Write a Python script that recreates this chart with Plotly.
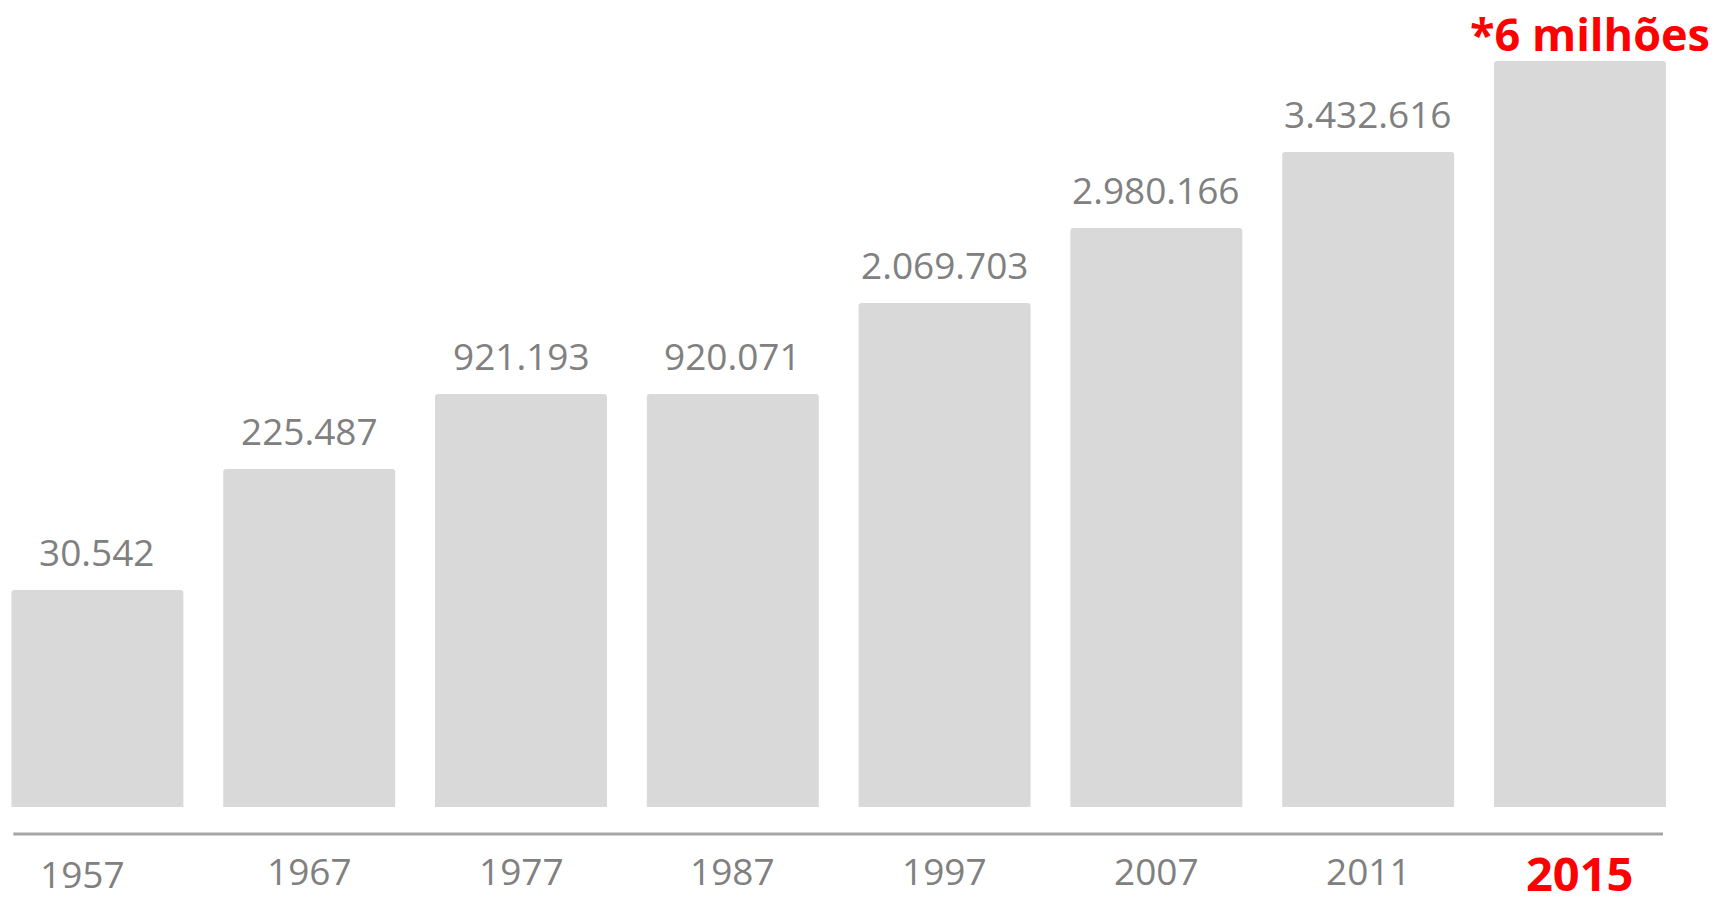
import plotly.graph_objects as go

# Data
years = ["1957", "1967", "1977", "1987", "1997", "2007", "2011", "2015"]
value_labels = ["30.542", "225.487", "921.193", "920.071", "2.069.703", "2.980.166", "3.432.616", "*6 milhões"]
# Displayed (stylised, non-proportional) bar heights
bar_heights = [217, 338, 413, 413, 504, 579, 655, 746]

GRAY_TXT = "#808080"
RED = "#ff0000"
BAR = "#d9d9d9"
FONT = "Open Sans"

x = list(range(len(years)))

fig = go.Figure()
fig.add_trace(go.Bar(
    x=x, y=bar_heights, width=0.812,
    marker=dict(color=BAR, line=dict(width=0), cornerradius=3),
    hoverinfo="skip",
))

annotations = []
n = len(years)
for i, (yr, lab, h) in enumerate(zip(years, value_labels, bar_heights)):
    last = i == n - 1
    if last:
        annotations.append(dict(
            x=i, y=h, xref="x", yref="y", text=f"<b>{lab}</b>", showarrow=False,
            yanchor="bottom", xanchor="center", xshift=10, yshift=-5,
            font=dict(family=FONT, size=45, color=RED),
        ))
        annotations.append(dict(
            x=i, y=-66, xref="x", yref="y", text=f"<b>{yr}</b>", showarrow=False,
            yanchor="middle", xanchor="center",
            font=dict(family=FONT, size=47, color=RED),
        ))
    else:
        annotations.append(dict(
            x=i, y=-63 if i else -66, xref="x", yref="y", text=yr, showarrow=False,
            yanchor="middle", xanchor="center",
            xshift=-15 if i == 0 else 0,
            font=dict(family=FONT, size=37, color=GRAY_TXT),
        ))
        annotations.append(dict(
            x=i, y=h, xref="x", yref="y", text=lab, showarrow=False,
            yanchor="bottom", xanchor="center", yshift=11,
            font=dict(family=FONT, size=37, color=GRAY_TXT),
        ))

fig.update_layout(
    width=1717, height=898,
    margin=dict(l=0, r=0, t=0, b=0),
    paper_bgcolor="white", plot_bgcolor="white",
    showlegend=False,
    xaxis=dict(range=[-0.460, 7.647], visible=False, fixedrange=True),
    yaxis=dict(range=[-91, 807], visible=False, fixedrange=True),
    annotations=annotations,
    shapes=[dict(type="line", xref="x", yref="y", x0=-0.397, x1=7.392, y0=-27, y1=-27,
                 line=dict(color="#a6a6a6", width=3))],
)

# remove the browser's default 8px body margin so the figure fills the window
fig.write_html("out.html",
               config={"displayModeBar": False},
               post_script="document.body.style.margin='0px';document.body.style.overflow='hidden';")
